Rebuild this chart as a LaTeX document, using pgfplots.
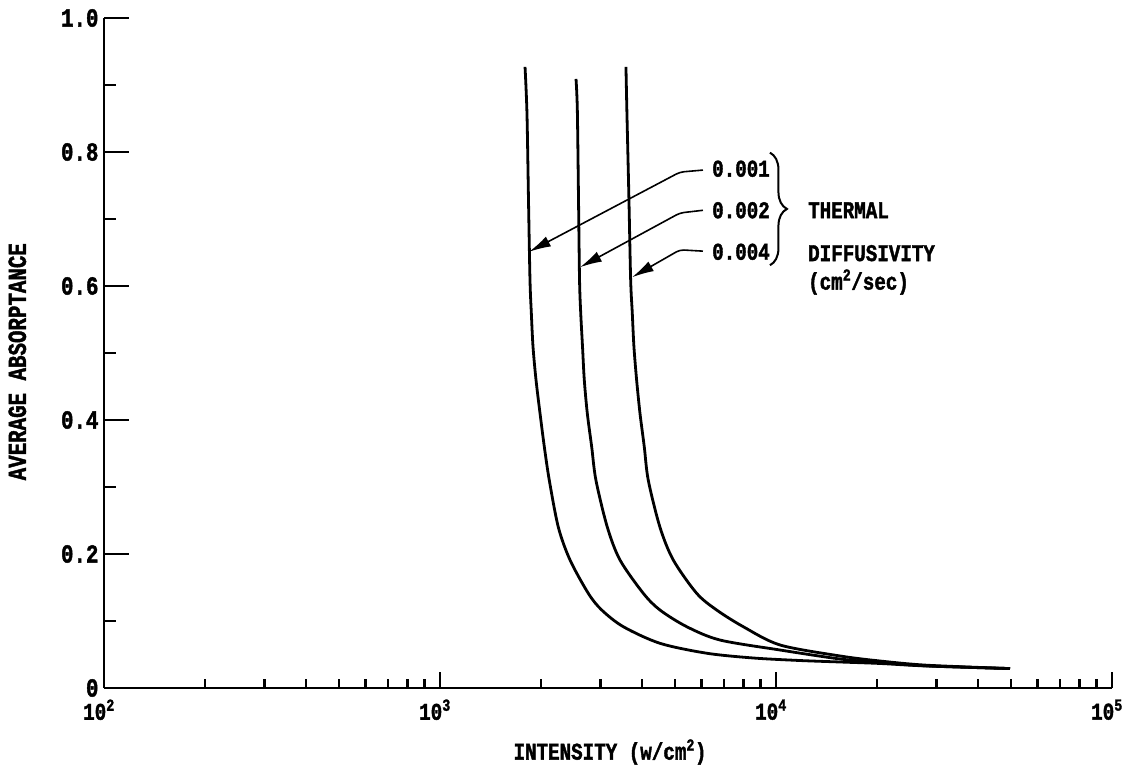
\documentclass[border=0pt]{standalone}
\usepackage{fontspec}
\setmainfont{Liberation Mono}[FakeStretch=0.8, BoldFeatures={FakeBold=1.6}]
\usepackage{pgfplots}
\pgfplotsset{compat=1.18}
\usetikzlibrary{decorations.pathreplacing,arrows.meta}

% absorptance vs intensity, three thermal diffusivities
\pgfplotstableread{
x y
1791 0.927
1815 0.858
1834 0.728
1853 0.609
1870 0.560
1892 0.509
1931 0.460
1985 0.410
2044 0.360
2115 0.310
2250 0.240
2438 0.191
2763 0.1413
3029 0.1164
3512 0.0915
4515 0.0667
6219 0.0519
8543 0.0448
11790 0.0410
15506 0.0388
20390 0.0366
28140 0.0328
49710 0.0290
}\dA
\pgfplotstableread{
x y
2540 0.909
2563 0.863
2584 0.728
2602 0.609
2623 0.560
2656 0.509
2688 0.460
2744 0.410
2828 0.360
2912 0.310
3148 0.240
3434 0.191
4028 0.1413
4515 0.1164
5424 0.0915
6813 0.0716
10278 0.0567
15506 0.0433
20390 0.0381
28140 0.0330
49710 0.0290
}\dB
\pgfplotstableread{
x y
3577 0.927
3601 0.858
3651 0.728
3694 0.609
3735 0.560
3778 0.509
3848 0.460
3938 0.410
4055 0.360
4168 0.310
4515 0.240
4947 0.191
5807 0.1413
6659 0.1164
7991 0.0915
10278 0.0642
15506 0.0478
20390 0.0403
28140 0.0340
49710 0.0290
}\dC

\newcommand{\lbl}{\bfseries\fontsize{24}{28}\selectfont}

\begin{document}
\begin{tikzpicture}
\useasboundingbox (-104pt,-82pt) rectangle (1032pt,688pt);
\begin{axis}[
  at={(0,0)}, anchor=south west,
  scale only axis, width=1008pt, height=670pt,
  xmode=log, xmin=100, xmax=100000,
  ymin=0, ymax=1,
  axis x line=bottom, axis y line=left,
  axis line style={-, line width=2.6pt},
  tick align=inside,
  xtick={100,1000,10000,100000},
  xticklabels={10\textsuperscript{2},10\textsuperscript{3},10\textsuperscript{4},10\textsuperscript{5}},
  ytick={0,0.2,0.4,0.6,0.8,1},
  yticklabels={0,0.2,0.4,0.6,0.8,1.0},
  minor y tick num=1,
  tick style={line width=2.4pt, black},
  xtick style={/pgfplots/major tick length=16pt, /pgfplots/minor tick length=9pt},
  ytick style={/pgfplots/major tick length=25pt, /pgfplots/minor tick length=12pt},
  xticklabel style={font=\lbl, yshift=-8pt, xshift=-5pt},
  yticklabel style={font=\bfseries\fontsize{26}{30}\selectfont, xshift=-2pt},
  xlabel={INTENSITY (w/cm\textsuperscript{2})},
  ylabel={AVERAGE ABSORPTANCE},
  xlabel style={at={(axis description cs:0.502,-0.0955)}, anchor=center, font=\lbl},
  ylabel style={at={(axis description cs:-0.086,0.487)}, anchor=center, font=\bfseries\fontsize{26}{30}\selectfont},
  clip=false,
]
\addplot[black, line width=2.8pt, smooth, tension=0.5] table {\dA};
\addplot[black, line width=2.8pt, smooth, tension=0.5] table {\dB};
\addplot[black, line width=2.8pt, smooth, tension=0.5] table {\dC};

% leader arrows to curves
\draw[line width=1.6pt, rounded corners=4pt, -{Latex[length=22pt,width=11pt]}]
  (axis cs:6063,0.773) -- (axis cs:5179,0.770) -- (axis cs:1840,0.651);
\draw[line width=1.6pt, rounded corners=4pt, -{Latex[length=22pt,width=11pt]}]
  (axis cs:6063,0.713) -- (axis cs:5179,0.709) -- (axis cs:2610,0.628);
\draw[line width=1.6pt, rounded corners=4pt, -{Latex[length=22pt,width=11pt]}]
  (axis cs:6063,0.652) -- (axis cs:5179,0.654) -- (axis cs:3728,0.613);

\node[anchor=west, font=\lbl, inner sep=0pt] at (axis cs:6450,0.775) {0.001};
\node[anchor=west, font=\lbl, inner sep=0pt] at (axis cs:6450,0.713) {0.002};
\node[anchor=west, font=\lbl, inner sep=0pt] at (axis cs:6450,0.651) {0.004};

\draw[line width=2pt, decorate, decoration={brace, amplitude=17pt}]
  (axis cs:9594,0.799) -- (axis cs:9594,0.631);

\node[anchor=west, font=\lbl, inner sep=0pt] at (axis cs:12450,0.713) {THERMAL};
\node[anchor=west, font=\lbl, inner sep=0pt] at (axis cs:12450,0.649) {DIFFUSIVITY};
\node[anchor=west, font=\lbl, inner sep=0pt] at (axis cs:12450,0.606) {(cm\textsuperscript{2}/sec)};
\end{axis}
\end{tikzpicture}
\end{document}
